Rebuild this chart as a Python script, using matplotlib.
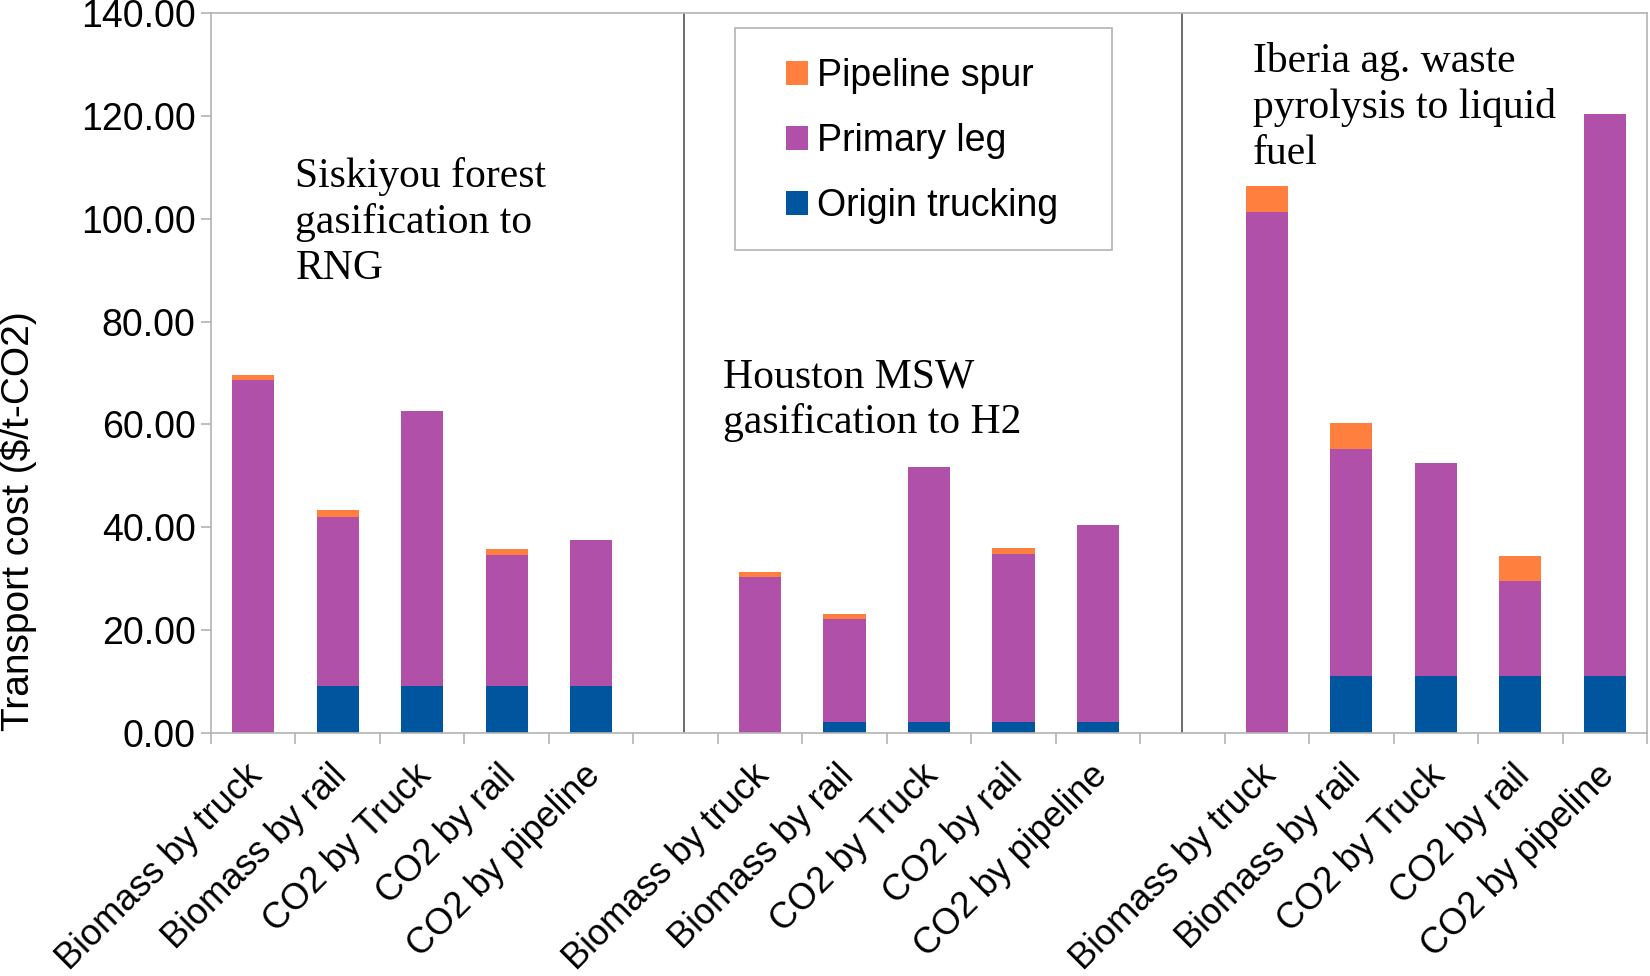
import matplotlib
matplotlib.use("Agg")
import matplotlib.pyplot as plt
from matplotlib.patches import Rectangle
import numpy as np

plt.rcParams['font.family'] = ['Liberation Sans', 'DejaVu Sans']

categories = ["Biomass by truck", "Biomass by rail", "CO2 by Truck", "CO2 by rail", "CO2 by pipeline"]
sites = ["Siskiyou forest\ngasification to\nRNG",
         "Houston MSW\ngasification to H2",
         "Iberia ag. waste\npyrolysis to liquid\nfuel"]

# segment heights ($/t-CO2), one list per site, bottom to top
siskiyou_origin = [0.0, 9.1, 9.1, 9.1, 9.1]
siskiyou_primary = [68.6, 32.9, 53.5, 25.5, 28.4]
siskiyou_spur = [1.1, 1.3, 0.0, 1.2, 0.0]

houston_origin = [0.0, 2.2, 2.2, 2.2, 2.2]
houston_primary = [30.3, 19.9, 49.6, 32.7, 38.3]
houston_spur = [1.0, 1.1, 0.0, 1.1, 0.0]

iberia_origin = [0.0, 11.1, 11.1, 11.1, 11.1]
iberia_primary = [101.4, 44.1, 41.4, 18.4, 109.3]
iberia_spur = [4.9, 5.0, 0.0, 4.9, 0.0]

series_names = ["Origin trucking", "Primary leg", "Pipeline spur"]
colors = ["#00569e", "#b050a8", "#ff7f3f"]

origin = siskiyou_origin + [0] + houston_origin + [0] + iberia_origin
primary = siskiyou_primary + [0] + houston_primary + [0] + iberia_primary
spur = siskiyou_spur + [0] + houston_spur + [0] + iberia_spur
labels = categories + [""] + categories + [""] + categories

n = len(labels)
x = np.arange(n) + 0.5
keep = np.array([lab != "" for lab in labels])

W, H = 1650, 976
fig = plt.figure(figsize=(W / 100, H / 100), dpi=100)
ax = fig.add_axes([211 / W, 1 - 733 / H, (1647 - 211) / W, 720 / H])

bottom = np.zeros(n)
bars = []
for vals, name, col in zip([origin, primary, spur], series_names, colors):
    vals = np.array(vals, dtype=float)
    b = ax.bar(x[keep], vals[keep], width=0.5, bottom=bottom[keep], color=col, label=name)
    bars.append(b)
    bottom += vals

ax.set_xlim(0, n)
ax.set_ylim(0, 140)
ax.set_yticks(np.arange(0, 141, 20))
ax.set_yticklabels([f"{v:.2f}" for v in np.arange(0, 141, 20)])
ax.set_xticks(np.arange(0, n + 1))
ax.set_xticklabels([])
# category labels sit a little left of the bar centre, as in the original
ax.set_xticks(x - 0.1, labels, minor=True)
for lab in ax.get_xticklabels(minor=True):
    lab.set_rotation(45)
    lab.set_ha("right")
    lab.set_rotation_mode("anchor")
ax.tick_params(axis="x", which="minor", length=0, pad=18, labelsize=26)
ax.tick_params(axis="x", which="major", length=8, color="#b3b3b3", width=1.2)
ax.tick_params(axis="y", length=7, color="#b3b3b3", width=1.2, labelsize=27, pad=4)
for s in ax.spines.values():
    s.set_color("#b3b3b3")
    s.set_linewidth(1.2)

# site separators
for sx in [5.6, 11.5]:
    ax.axvline(sx, color="#555555", lw=1.2)

serif = ['Liberation Serif', 'DejaVu Serif']
ax.text(1.0, 112.0, sites[0], family=serif, fontsize=30, va="top", ha="left", linespacing=1.24)
ax.text(6.06, 73.0, sites[1], family=serif, fontsize=30, va="top", ha="left", linespacing=1.24)
ax.text(12.33, 134.4, sites[2], family=serif, fontsize=30, va="top", ha="left", linespacing=1.24)

fig.text(18 / W, 1 - 521 / H, "Transport cost ($/t-CO2)", rotation=90, fontsize=28,
         ha="center", va="center")

# legend
leg = ax.legend(handles=bars[::-1], labels=series_names[::-1], loc="upper left",
                bbox_to_anchor=(786 / W, 1 - 58 / H), bbox_transform=fig.transFigure,
                frameon=False, fontsize=27, handlelength=0.59, handleheight=0.59,
                handletextpad=0.24, borderpad=0, borderaxespad=0, labelspacing=0.78)
fig.patches.append(Rectangle((735 / W, 1 - 250 / H), 377 / W, 221.5 / H,
                             transform=fig.transFigure, fill=False,
                             edgecolor="#b3b3b3", lw=1.2))

fig.savefig("out.png", dpi=100)
